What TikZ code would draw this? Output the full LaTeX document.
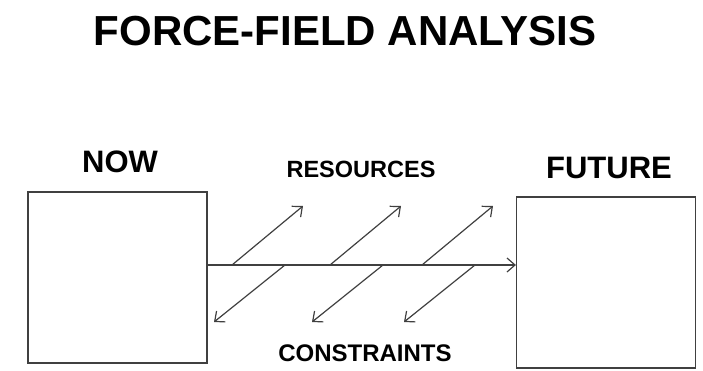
\documentclass[tikz,border=0pt]{standalone}
\usepackage{fontspec}
\setmainfont{Liberation Sans}
\usetikzlibrary{arrows.meta}

\begin{document}
\begin{tikzpicture}[x=1pt, y=-1pt,
    stage/.style={draw=black!75, line width=1.2pt, minimum width=179pt, minimum height=171pt, inner sep=0pt},
    heading/.style={font=\bfseries\fontsize{#1}{#1}\selectfont, inner sep=0pt},
    force/.style={draw=black!75, line width=1.2pt, -{Straight Barb[length=8pt, width=14pt, line width=1.2pt]}}]
  \useasboundingbox (0,0) rectangle (703,370);
  % title
  \node[heading=42] (title) at (345,31) {FORCE-FIELD ANALYSIS};
  % present and future states
  \node[stage] (now) at (117.5,277.5) {};
  \node[stage] (future) at (606,282.5) {};
  \node[heading=31] (nowlabel) at (120,162) {NOW};
  \node[heading=31] (futurelabel) at (609,168) {FUTURE};
  \node[heading=23.5] (resources) at (361,169) {RESOURCES};
  \node[heading=24] (constraints) at (365,353) {CONSTRAINTS};
  % axis of change
  \coordinate (axis) at (0,265);
  \draw[force] (now.east |- axis) -- (future.west |- axis);
  % driving and restraining forces
  \foreach \x in {232,330,422}
    \draw[force] (\x,265) -- ++(71,-59);
  \foreach \x in {285,383,475}
    \draw[force] (\x,265) -- ++(-71,57);
\end{tikzpicture}
\end{document}
